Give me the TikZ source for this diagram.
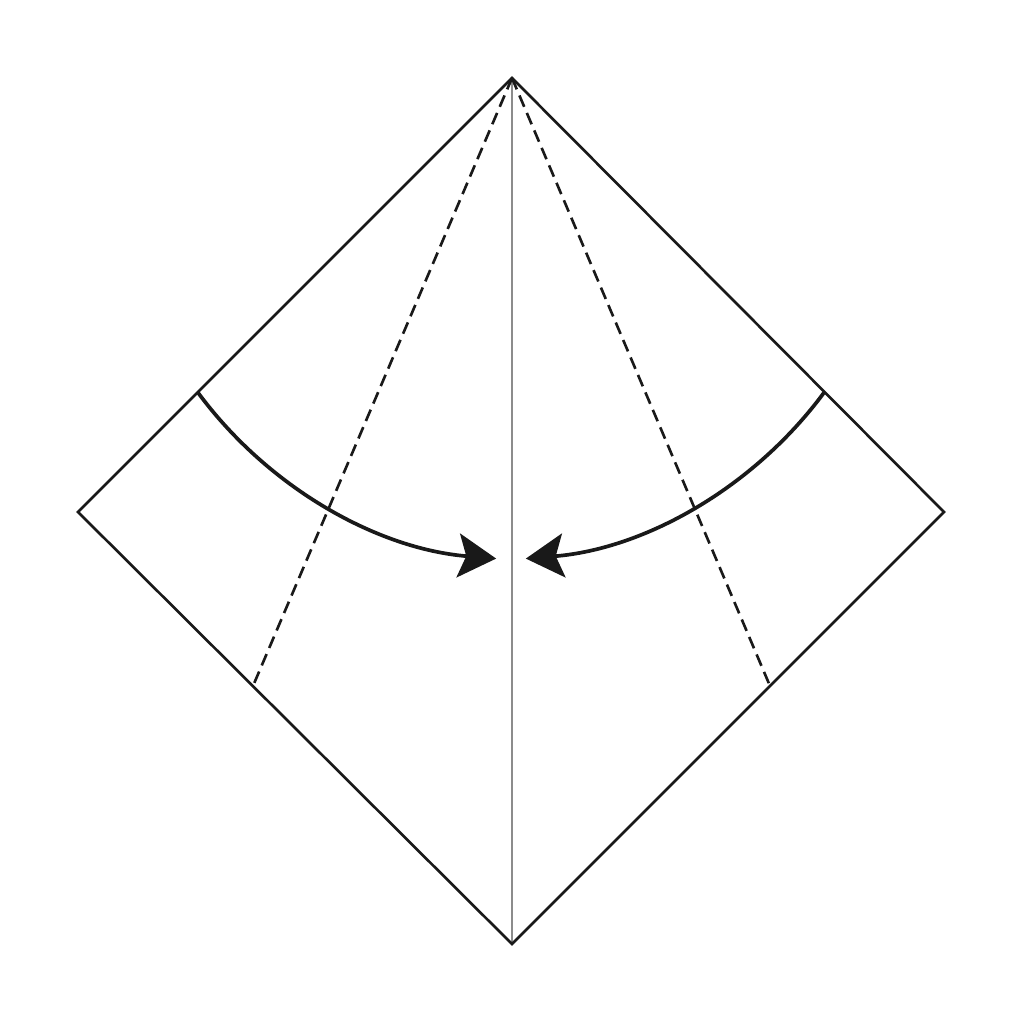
\documentclass[tikz,border=0pt]{standalone}
\usetikzlibrary{arrows.meta}
\begin{document}
\begin{tikzpicture}[x=0.02cm,y=-0.02cm,
  outline/.style={line width=1.5pt,line join=miter,black!90},
  crease/.style={line width=1.5pt,dash pattern=on 7pt off 3.8pt,black!90},
  centre/.style={line width=1.1pt,black!45},
  foldarrow/.style={line width=2.1pt,black!90,-{Stealth[length=0.76cm,width=0.88cm,inset=0.16cm]}}]
\useasboundingbox (0,0) rectangle (1024,1024);
\coordinate (T) at (512,78);
\coordinate (L) at (78,512);
\coordinate (B) at (512,944);
\coordinate (R) at (944,512);
\coordinate (DL) at (253,686);
\coordinate (DR) at (770,686);
\draw[centre] (T) -- (B);
\draw[crease] (T) -- (DL);
\draw[crease] (T) -- (DR);
\draw[outline] (T) -- (L) -- (B) -- (R) -- cycle;
\draw[foldarrow] (530,147) ++(143.5:413) arc[start angle=143.5,end angle=94.7,radius=413];
\draw[foldarrow] (492,147) ++(36.5:413) arc[start angle=36.5,end angle=85.3,radius=413];
\end{tikzpicture}
\end{document}
